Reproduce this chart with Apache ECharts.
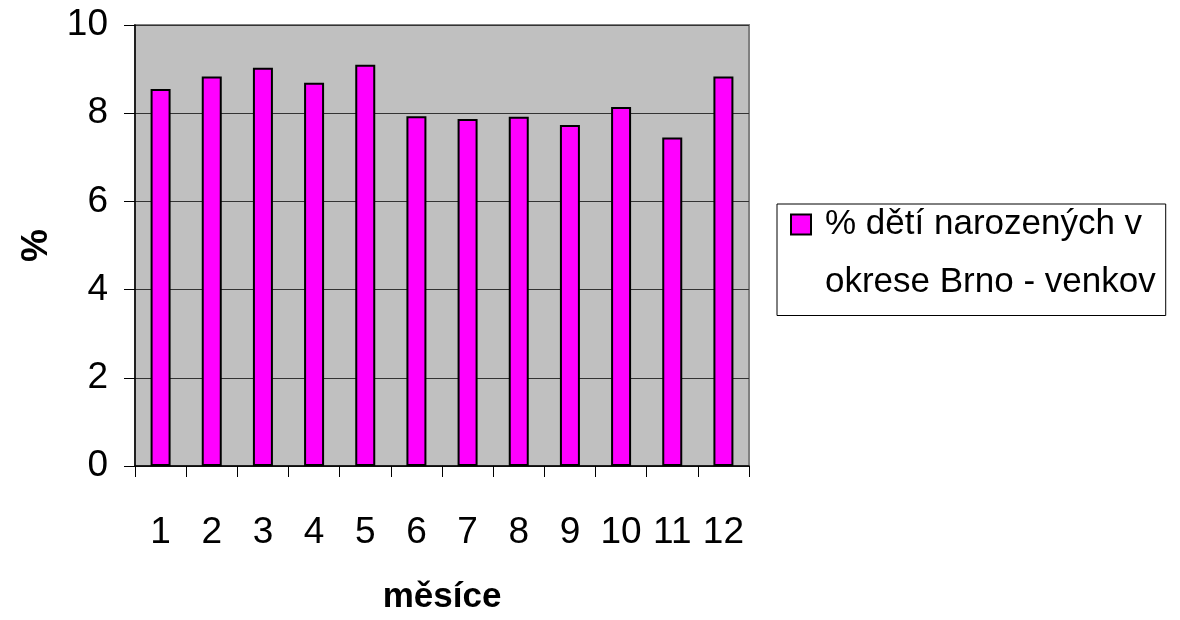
<!DOCTYPE html>
<html>
<head>
<meta charset="utf-8">
<title>Porodnost podle měsíců</title>
<script src="https://cdn.jsdelivr.net/npm/echarts@6/dist/echarts.min.js"></script>
<style>
  html, body { margin: 0; padding: 0; background: #fff; }
  #chart { width: 1180px; height: 620px; }
</style>
</head>
<body>
<div id="chart"></div>
<script>
// Měsíce narození (1–12)
const months = ['1', '2', '3', '4', '5', '6', '7', '8', '9', '10', '11', '12'];
// Podíl dětí narozených v daném měsíci, okres Brno - venkov (%)
const sharePct = [8.55, 8.83, 9.03, 8.69, 9.10, 7.93, 7.87, 7.92, 7.73, 8.14, 7.45, 8.83];
// Hodnoty osy Y
const yTicks = { min: 0, max: 10, step: 2 };
// Popisky
const legendLines = ['% dětí narozených v', 'okrese Brno - venkov'];
const seriesName = legendLines.join(' ');
const xTitle = 'měsíce';
const yTitle = '%';

const FONT = '"Liberation Sans", Arial, sans-serif';

const chart = echarts.init(document.getElementById('chart'), null, { renderer: 'canvas' });

chart.setOption({
  animation: false,
  backgroundColor: '#ffffff',
  textStyle: { fontFamily: FONT },
  grid: {
    left: 135,
    right: 431,
    top: 25,
    bottom: 152,
    show: true,
    backgroundColor: '#C0C0C0',
    borderColor: '#808080',
    borderWidth: 2
  },
  legend: {
    data: [seriesName],
    orient: 'vertical',
    left: 777,
    top: 204,
    padding: [3, 10, 0, 13],
    borderColor: '#000',
    borderWidth: 1,
    borderRadius: 0,
    itemWidth: 20,
    itemHeight: 100,
    icon: 'path://M0,0H10V10H0Z M0,50',
    itemStyle: { borderColor: '#000', borderWidth: 2 },
    formatter: () => '{a|' + legendLines[0] + '}\n{b|' + legendLines[1] + '}',
    textStyle: {
      fontFamily: FONT,
      fontSize: 35,
      color: '#000',
      padding: [0, 0, 0, 9],
      rich: {
        a: { fontFamily: FONT, fontSize: 35, color: '#000', lineHeight: 36 },
        b: { fontFamily: FONT, fontSize: 35, color: '#000', lineHeight: 80 }
      }
    }
  },
  xAxis: {
    type: 'category',
    data: months,
    name: xTitle,
    nameLocation: 'middle',
    nameGap: 114,
    nameTextStyle: { fontFamily: FONT, fontSize: 35, fontWeight: 'bold', color: '#000' },
    axisLine: { show: true, lineStyle: { color: '#000', width: 1.5 } },
    axisTick: { show: true, inside: false, length: 11, alignWithLabel: false, lineStyle: { color: '#000', width: 1 } },
    axisLabel: { fontFamily: FONT, fontSize: 37, color: '#000', margin: 48, interval: 0 },
    splitLine: { show: false }
  },
  yAxis: {
    type: 'value',
    min: yTicks.min,
    max: yTicks.max,
    interval: yTicks.step,
    name: yTitle,
    nameLocation: 'middle',
    nameRotate: 90,
    nameGap: 80,
    nameTextStyle: { fontFamily: FONT, fontSize: 37, fontWeight: 'bold', color: '#000' },
    axisLine: { show: true, lineStyle: { color: '#000', width: 1.5 } },
    axisTick: { show: true, inside: false, length: 11, lineStyle: { color: '#000', width: 1 } },
    axisLabel: { fontFamily: FONT, fontSize: 37, color: '#000', margin: 27 },
    splitLine: { show: true, lineStyle: { color: '#333', width: 1.2 } }
  },
  series: [{
    name: seriesName,
    type: 'bar',
    data: sharePct,
    barWidth: 20,
    itemStyle: { color: '#FF00FF', borderColor: '#000', borderWidth: 2 },
    emphasis: { disabled: true }
  }]
});
</script>
</body>
</html>
